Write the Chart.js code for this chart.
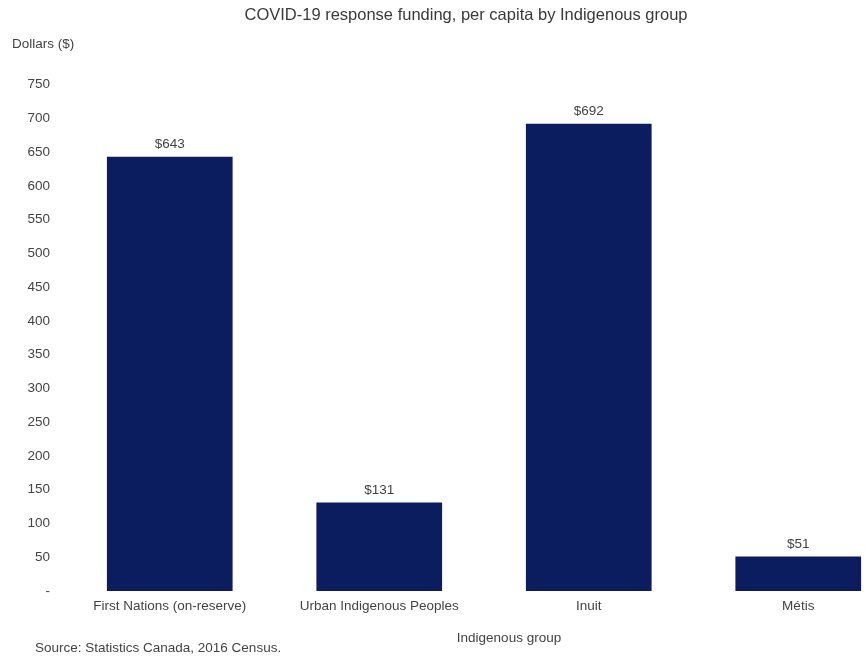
<!DOCTYPE html>
<html lang="en">
<head>
<meta charset="utf-8">
<title>COVID-19 response funding, per capita by Indigenous group</title>
<script src="https://cdn.jsdelivr.net/npm/chart.js@4/dist/chart.umd.min.js"></script>
<style>
  html, body { margin: 0; padding: 0; background: #fff; overflow: hidden; }
  #wrap { width: 932px; height: 658px; }
</style>
</head>
<body>
<div id="wrap"><canvas id="fundingChart" width="932" height="658"></canvas></div>
<script>
const groups = ["First Nations (on-reserve)", "Urban Indigenous Peoples", "Inuit", "Métis"];
const perCapita = [643, 131, 692, 51];
const yTicks = [0, 50, 100, 150, 200, 250, 300, 350, 400, 450, 500, 550, 600, 650, 700, 750];

const chartTitle = "COVID-19 response funding, per capita by Indigenous group";
const yAxisLabel = "Dollars ($)";
const xAxisLabel = "Indigenous group";
const sourceNote = "Source: Statistics Canada, 2016 Census.";

const FONT = "'Liberation Sans', Arial, Helvetica, sans-serif";
const TEXT_COLOR = "#444";
const BAR_COLOR = "#0b1d5e";

document.addEventListener("DOMContentLoaded", function () {
  createFundingChart();
});

// value labels above each bar ("$643" etc)
const barValueLabels = {
  id: "barValueLabels",
  afterDatasetsDraw(chart) {
    const ctx = chart.ctx;
    const meta = chart.getDatasetMeta(0);
    ctx.save();
    ctx.font = "13.5px " + FONT;
    ctx.fillStyle = TEXT_COLOR;
    ctx.textAlign = "center";
    ctx.textBaseline = "middle";
    meta.data.forEach((bar, i) => {
      ctx.fillText("$" + perCapita[i], bar.x, bar.y - 12.5);
    });
    ctx.restore();
  },
};

// loose texts: title, y title at top-left, x title, source line
const extraText = {
  id: "extraText",
  afterDraw(chart) {
    const ctx = chart.ctx;
    ctx.save();
    ctx.textBaseline = "middle";
    ctx.textAlign = "center";
    ctx.font = "16.5px " + FONT;
    ctx.fillStyle = "#3a3a3a";
    ctx.fillText(chartTitle, 466, 15);

    ctx.font = "13.5px " + FONT;
    ctx.fillStyle = TEXT_COLOR;
    ctx.fillText(xAxisLabel, 509, 638);
    ctx.textAlign = "left";
    ctx.fillText(yAxisLabel, 12, 44);
    ctx.fillText(sourceNote, 35, 648);
    ctx.restore();
  },
};

function createFundingChart() {
  const canvasEl = document.getElementById("fundingChart");
  if (!canvasEl) return;
  const ctx = canvasEl.getContext("2d");

  new Chart(ctx, {
    type: "bar",
    data: {
      labels: groups,
      datasets: [
        {
          label: "Per capita funding",
          data: perCapita,
          backgroundColor: BAR_COLOR,
          borderWidth: 0,
          categoryPercentage: 1,
          barPercentage: 0.6,
        },
      ],
    },
    options: {
      responsive: false,
      animation: false,
      devicePixelRatio: 1,
      layout: { padding: { left: 0, right: 29, top: 84.5, bottom: 0 } },
      plugins: {
        legend: { display: false },
        tooltip: { enabled: false },
        title: { display: false },
      },
      scales: {
        y: {
          min: 0,
          max: 750,
          afterBuildTicks: (scale) => {
            scale.ticks = yTicks.map((v) => ({ value: v }));
          },
          afterFit: (scale) => {
            scale.width = 65;
          },
          ticks: {
            padding: 15,
            color: TEXT_COLOR,
            font: { family: FONT, size: 13.5 },
            callback: (val) => (val === 0 ? "-" : val),
          },
          grid: { display: false, drawTicks: false },
          border: { display: false },
        },
        x: {
          afterFit: (scale) => {
            scale.height = 67;
          },
          ticks: {
            padding: 7,
            color: TEXT_COLOR,
            font: { family: FONT, size: 13.5 },
            maxRotation: 0,
            autoSkip: false,
          },
          grid: { display: false, drawTicks: false },
          border: { display: false },
        },
      },
    },
    plugins: [barValueLabels, extraText],
  });
}
</script>
</body>
</html>
